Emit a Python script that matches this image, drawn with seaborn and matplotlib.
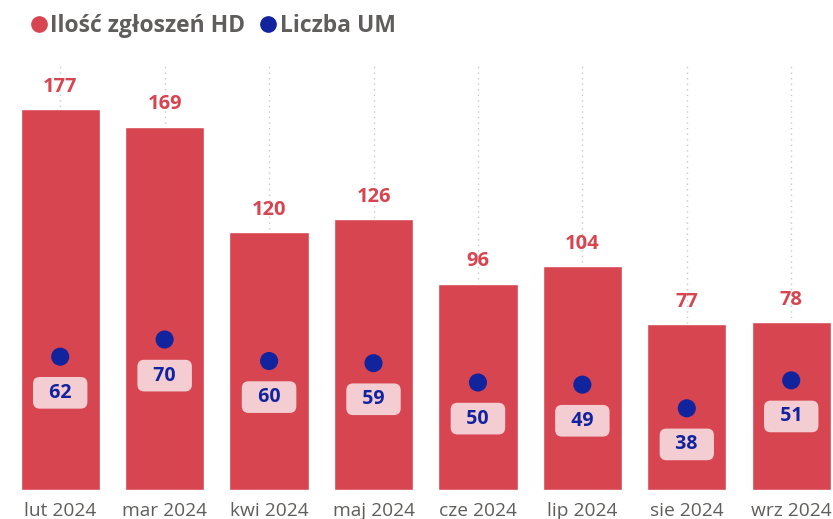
import seaborn as sns
import pandas as pd
import matplotlib.pyplot as plt
from matplotlib.lines import Line2D

months = ["lut 2024", "mar 2024", "kwi 2024", "maj 2024", "cze 2024", "lip 2024", "sie 2024", "wrz 2024"]
hd_counts = [177, 169, 120, 126, 96, 104, 77, 78]
um_counts = [62, 70, 60, 59, 50, 49, 38, 51]

RED = "#D64550"
BLUE = "#12239E"
GREY = "#605E5C"

df = pd.DataFrame({"month": months, "hd": hd_counts, "um": um_counts})

sns.set_theme(style="white")
plt.rcParams["font.family"] = ["Open Sans", "DejaVu Sans"]

fig = plt.figure(figsize=(8.33, 5.19), dpi=100)
ax = fig.add_axes([8/833, 1 - 490/519, 1 - 8/833, (490 - 65)/519])

sns.barplot(data=df, x="month", y="hd", color=RED, width=0.76, saturation=1, ax=ax, zorder=2)
sns.scatterplot(x=range(len(months)), y=df["um"], color=BLUE, s=170, edgecolor="none", ax=ax, zorder=3)

# dotted vertical grid at category centres
for i in range(len(months)):
    ax.axvline(i, color="#C8C8C8", linestyle=(0, (1, 3)), linewidth=1, zorder=1)

for i, v in enumerate(hd_counts):
    ax.annotate(str(v), (i, v), xytext=(0, 16), textcoords="offset points",
                ha="center", va="center", color=RED, fontsize=14.5, fontweight="bold")

for i, v in enumerate(um_counts):
    ax.annotate(f"  {v}  ", (i, v), xytext=(0, -26), textcoords="offset points",
                ha="center", va="center", color=BLUE, fontsize=14, fontweight="bold", zorder=4,
                bbox=dict(boxstyle="round,pad=0.3,rounding_size=0.35", fc="#F3CDD1", ec="none"))

ax.set_xlim(-0.5, 7.40)
ax.set_ylim(0, 425/2.15)
ax.set_xlabel("")
ax.set_ylabel("")
ax.set_yticks([])
ax.tick_params(axis="x", length=0, pad=9, labelsize=13.8, labelcolor=GREY)
sns.despine(ax=ax, left=True, bottom=True)

handles = [Line2D([], [], marker="o", linestyle="", color=RED, markersize=11),
           Line2D([], [], marker="o", linestyle="", color=BLUE, markersize=11)]
leg = fig.legend(handles, ["Ilość zgłoszeń HD", "Liczba UM"], loc="upper left",
                 bbox_to_anchor=(0.008, 1.012), ncol=2, frameon=False, handletextpad=0.0,
                 columnspacing=0.5, handlelength=1.0,
                 prop={"size": 16.5, "weight": "bold"})
for t in leg.get_texts():
    t.set_color(GREY)

fig.savefig("out.png", dpi=100)
